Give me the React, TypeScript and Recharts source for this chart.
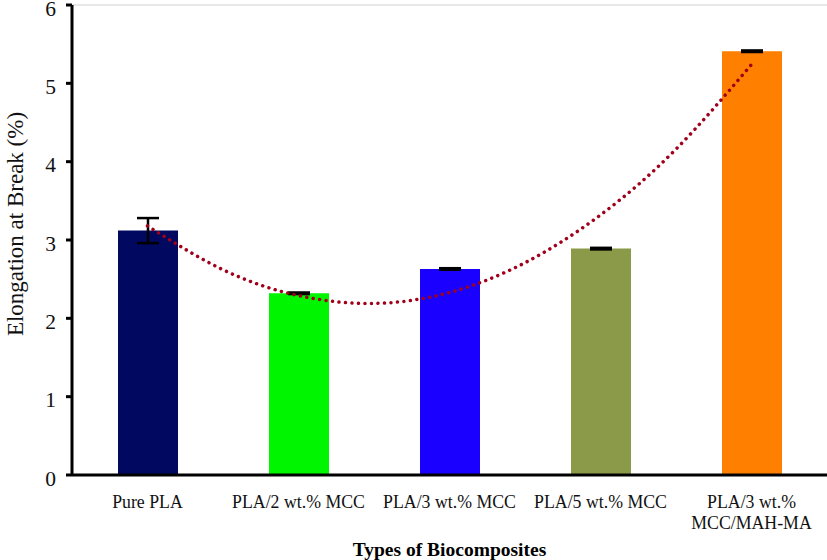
import React from 'react';
import {
  ComposedChart,
  Bar,
  Line,
  XAxis,
  YAxis,
  Cell,
  ErrorBar,
  ReferenceLine,
} from 'recharts';

const categories = [
  'Pure PLA',
  'PLA/2 wt.% MCC',
  'PLA/3 wt.% MCC',
  'PLA/5 wt.% MCC',
  'PLA/3 wt.% MCC/MAH-MA',
];
// how each tick label is broken into lines
const tickLines = [
  ['Pure PLA'],
  ['PLA/2 wt.% MCC'],
  ['PLA/3 wt.% MCC'],
  ['PLA/5 wt.% MCC'],
  ['PLA/3 wt.%', 'MCC/MAH-MA'],
];
const elongation = [3.12, 2.32, 2.63, 2.89, 5.41];
const elongationErr = [0.16, 0.01, 0.01, 0.01, 0.01];
const barColors = ['#00085f', '#00f500', '#1a00ff', '#8a9a48', '#ff8000'];

// polynomial trendline
const trendX = [1, 1.5, 2, 2.5, 3, 3.5, 4, 4.5, 5];
const trendY = [3.18, 2.62, 2.29, 2.19, 2.33, 2.71, 3.32, 4.16, 5.24];

const yTicks = [0, 1, 2, 3, 4, 5, 6];

const barData = categories.map((name, i) => ({
  name,
  idx: i,
  value: elongation[i],
  err: elongationErr[i],
}));
const trendData = trendX.map((x, i) => ({ x, y: trendY[i] }));

const FONT = '"Liberation Serif", "Times New Roman", serif';

const XTick = (props: any) => {
  const { x, y, payload } = props;
  const lines = tickLines[payload.index] || [payload.value];
  return (
    <text
      x={x}
      y={y}
      textAnchor='middle'
      fontFamily={FONT}
      fontSize={17.8}
      fill='#111'
    >
      {lines.map((l: string, i: number) => (
        <tspan key={i} x={x} dy={i === 0 ? 25 : 21}>
          {l}
        </tspan>
      ))}
    </text>
  );
};

const YTick = (props: any) => {
  const { x, y, payload } = props;
  return (
    <text
      x={x}
      y={y}
      dy={10.5}
      textAnchor='end'
      fontFamily={FONT}
      fontSize={21.5}
      fill='#111'
    >
      {payload.value}
    </text>
  );
};

export default function App() {
  return (
    <div
      style={{
        position: 'absolute',
        left: 0,
        top: 0,
        width: 827,
        height: 560,
        background: '#fff',
      }}
    >
      <ComposedChart
        width={827}
        height={560}
        data={barData}
        margin={{ top: 5, right: 0, left: 0, bottom: 0 }}
      >
        <ReferenceLine y={6} stroke='#cfcfcf' strokeWidth={1} />
        <XAxis
          dataKey='name'
          height={85}
          tickLine={false}
          axisLine={{ stroke: '#000', strokeWidth: 3 }}
          tick={<XTick />}
          interval={0}
          label={{
            value: 'Types of Biocomposites',
            position: 'insideBottom',
            offset: 4,
            fontFamily: FONT,
            fontSize: 19.5,
            fontWeight: 'bold',
            fill: '#000',
          }}
        />
        <XAxis
          xAxisId='trend'
          type='number'
          dataKey='x'
          domain={[0.5, 5.5]}
          hide
        />
        <YAxis
          width={72}
          domain={[0, 6]}
          ticks={yTicks}
          interval={0}
          tickSize={6}
          tickMargin={10}
          axisLine={{ stroke: '#000', strokeWidth: 3 }}
          tickLine={{ stroke: '#000', strokeWidth: 3 }}
          tick={<YTick />}
          label={{
            value: 'Elongation at Break (%)',
            angle: -90,
            position: 'center',
            dx: -21,
            dy: -16,
            fontFamily: FONT,
            fontSize: 23,
            fill: '#111',
          }}
        />
        <Bar dataKey='value' barSize={60} isAnimationActive={false}>
          {barData.map((d, i) => (
            <Cell key={d.name} fill={barColors[i]} />
          ))}
          <ErrorBar
            dataKey='err'
            width={11}
            stroke='#000'
            strokeWidth={2.5}
          />
        </Bar>
        <Line
          data={trendData}
          xAxisId='trend'
          dataKey='y'
          type='natural'
          stroke='#a0001a'
          strokeWidth={3.5}
          strokeDasharray='0.01 6.5'
          strokeLinecap='round'
          dot={false}
          activeDot={false}
          isAnimationActive={false}
        />
      </ComposedChart>
    </div>
  );
}
